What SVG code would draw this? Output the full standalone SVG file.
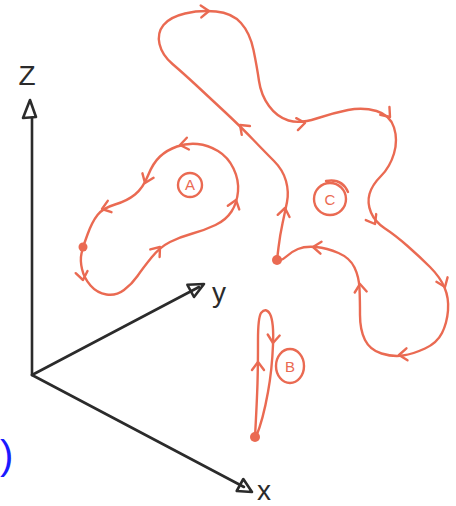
<svg xmlns="http://www.w3.org/2000/svg" xmlns:xlink="http://www.w3.org/1999/xlink" width="456" height="506" viewBox="0 0 456 506">
<style>
.orb{fill:none;stroke:#EA6A52;stroke-width:2.4;stroke-linecap:round;stroke-linejoin:round}
.dot{fill:#EA6A52}
.ax{fill:none;stroke:#2b2b2b;stroke-width:2.6;stroke-linecap:round;stroke-linejoin:round}
.axl{font-family:"Liberation Sans",Arial,sans-serif;fill:#2b2b2b;text-anchor:middle}
.lbl{font-family:"Liberation Sans",Arial,sans-serif;fill:#EA6A52;font-size:15px;text-anchor:middle}
</style>
<defs>
<path id="chev" d="M-8,-6 L0,0 L-8,6" fill="none" stroke="#EA6A52" stroke-width="2.4" stroke-linecap="round" stroke-linejoin="round"/>
</defs>
<rect width="456" height="506" fill="#ffffff"/>

<g id="axes">
<path class="ax" d="M32,375 L32,118"/>
<path class="ax" d="M23,118 L30,100 L36,117 Z"/>
<path class="ax" d="M32,375 L199,287"/>
<path class="ax" d="M204,284 L187.4,284.8 L194,297 Z"/>
<path class="ax" d="M32,375 L244,487"/>
<path class="ax" d="M252,492 L243.3,479 L236.7,491 Z"/>
<text class="axl" x="27" y="85" font-size="28">Z</text>
<text class="axl" x="219" y="302" font-size="28">y</text>
<text class="axl" x="264" y="500" font-size="28">x</text>
</g>

<g id="connectors">
<path class="orb" d="M83,247 L87.5,234.5 Q92,222 97.5,215 Q103,208 115,204.5 Q127,201 135,194.5 Q143,188 148,175.5 Q153,163 160,156.5 Q167,150 177,146.5 Q187,143 197.5,144 Q208,145 218,151 Q228,157 233.5,168.5 Q239,180 238,191.5 Q237,203 231.5,211.5 Q226,220 215.5,225 Q205,230 192.5,233.5 Q180,237 170,242 Q160,247 151.5,257.5 Q143,268 137.5,276 Q132,284 124,290 Q116,296 106.5,294.5 Q97,293 90.5,285.5 Q84,278 82,269 Q80,260 81.5,253.5 L83,247"/>
<path class="orb" d="M277,260 L278.5,247.5 Q280,235 282.5,223.5 Q285,212 287,202 Q289,192 286,181 Q283,170 274,161 Q265,152 253.5,140 Q242,128 226,113 Q210,98 196.5,85.5 Q183,73 172.5,64 Q162,55 159.5,44 Q157,33 163.5,25 Q170,17 185,13.5 Q200,10 216,11.5 Q232,13 241,23 Q250,33 253.5,50 Q257,67 259,81 Q261,95 269,106 Q277,117 288.5,120.5 Q300,124 316.5,118.5 Q333,113 348,110 Q363,107 376.5,111 Q390,115 394,127.5 Q398,140 394,153.5 Q390,167 381,176 Q372,185 369.5,194 Q367,203 371,212.5 Q375,222 385,228.5 Q395,235 407.5,246 Q420,257 430,267 Q440,277 444.5,287.5 Q449,298 448,310.5 Q447,323 442,333 Q437,343 425,348.5 Q413,354 403,355.5 Q393,357 381.5,353.5 Q370,350 365,340 Q360,330 360,315 Q360,300 359.5,288.5 Q359,277 354.5,267.5 Q350,258 338.5,253 Q327,248 316,247 Q305,246 298,249 Q291,252 287,256 Q283,260 278,261"/>
<path class="orb" d="M255,437 Q257,400 257.5,383 Q258,367 258,340 Q258,318 261,313 Q266,307 270,314 Q274,322 273,345 Q272,370 268,392 Q263,420 256,437"/>
</g>

<g id="A">
<circle class="dot" cx="83" cy="247" r="4.5"/>
<use href="#chev" transform="translate(180,145) rotate(170)"/>
<use href="#chev" transform="translate(145,183) rotate(112)"/>
<use href="#chev" transform="translate(102,209) rotate(162)"/>
<use href="#chev" transform="translate(83,280) rotate(80)"/>
<use href="#chev" transform="translate(160,247) rotate(-51)"/>
<use href="#chev" transform="translate(236,200) rotate(-72)"/>
<circle class="orb" cx="190" cy="185" r="12"/>
<text class="lbl" x="190" y="190">A</text>
</g>

<g id="B">
<circle class="dot" cx="255" cy="437" r="5"/>
<use href="#chev" transform="translate(258,362) rotate(-90)"/>
<use href="#chev" transform="translate(273,343) rotate(95)"/>
<ellipse class="orb" cx="290" cy="366" rx="14" ry="17"/>
<text class="lbl" x="290" y="372">B</text>
</g>

<g id="C">
<circle class="dot" cx="277" cy="260" r="5"/>
<use href="#chev" transform="translate(285,208) rotate(-80)"/>
<use href="#chev" transform="translate(240,125) rotate(-137)"/>
<use href="#chev" transform="translate(209,11) rotate(-3)"/>
<use href="#chev" transform="translate(305,123) rotate(-8)"/>
<use href="#chev" transform="translate(390,117) rotate(50)"/>
<use href="#chev" transform="translate(375,224) rotate(60)"/>
<use href="#chev" transform="translate(445,287) rotate(68)"/>
<use href="#chev" transform="translate(399,355) rotate(175)"/>
<use href="#chev" transform="translate(360,284) rotate(-95)"/>
<use href="#chev" transform="translate(313,247) rotate(185)"/>
<circle class="orb" cx="330" cy="199" r="16"/>
<path class="orb" d="M326,181 Q342,178 348,192"/>
<text class="lbl" x="330" y="205" font-size="18">C</text>
</g>

<text x="0" y="469" font-family="Liberation Sans, Arial, sans-serif" font-size="40" fill="#1a1aff">)</text>
</svg>
